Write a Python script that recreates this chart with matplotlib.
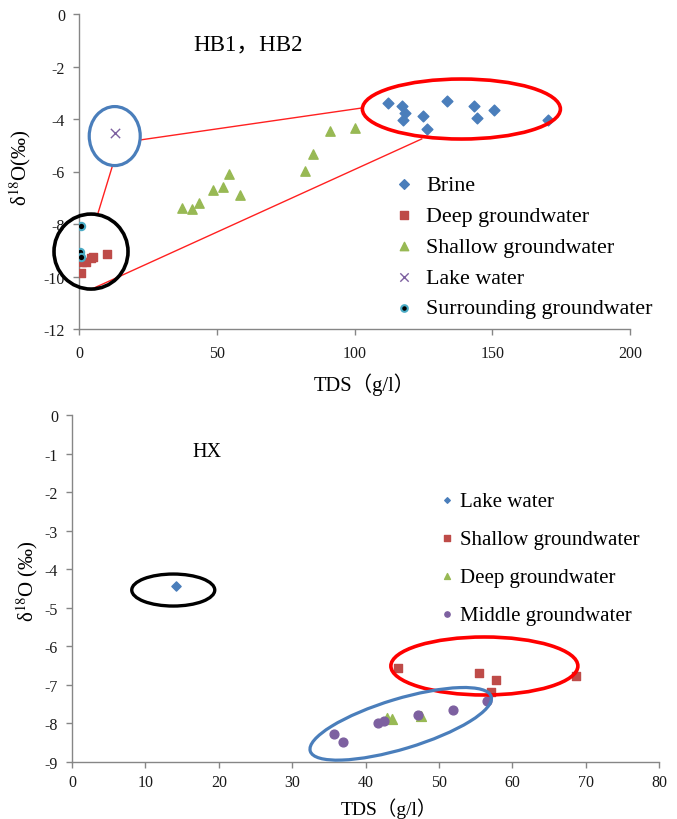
import matplotlib
matplotlib.use("Agg")
import matplotlib.pyplot as plt
from matplotlib.patches import Ellipse
from matplotlib.transforms import ScaledTranslation

plt.rcParams['font.family'] = ['Liberation Serif', 'Noto Sans CJK SC', 'DejaVu Sans']
plt.rcParams['mathtext.fontset'] = 'stix'
plt.rcParams['axes.unicode_minus'] = False

# ---------------- data: top panel (HB1, HB2) ----------------
top_brine_tds = [112.0, 117.3, 118.2, 117.6, 124.9, 126.3, 133.5, 143.5, 144.5, 150.8, 170.1]
top_brine_d18o = [-3.40, -3.50, -3.78, -4.03, -3.87, -4.38, -3.31, -3.52, -3.95, -3.67, -4.03]
top_deep_tds = [10.1, 5.0, 4.4, 2.5, 1.0, 0.8]
top_deep_d18o = [-9.15, -9.25, -9.28, -9.43, -9.46, -9.87]
top_shallow_tds = [37.5, 41.0, 43.4, 48.6, 52.3, 54.3, 58.6, 82.2, 85.1, 91.2, 100.3]
top_shallow_d18o = [-7.39, -7.44, -7.20, -6.70, -6.59, -6.10, -6.90, -5.99, -5.33, -4.44, -4.34]
top_lake_tds = [13.1]
top_lake_d18o = [-4.52]
top_surr_tds = [0.6, 0.4, 0.7]
top_surr_d18o = [-8.06, -9.08, -9.27]

top_xticks = [0, 50, 100, 150, 200]
top_yticks = [0, -2, -4, -6, -8, -10, -12]

# ---------------- data: bottom panel (HX) ----------------
bot_lake_tds = [14.17]
bot_lake_d18o = [-4.43]
bot_shallow_tds = [44.45, 55.5, 57.8, 57.1, 68.7]
bot_shallow_d18o = [-6.56, -6.68, -6.87, -7.18, -6.78]
bot_deep_tds = [42.95, 43.55, 47.5]
bot_deep_d18o = [-7.85, -7.88, -7.81]
bot_middle_tds = [35.7, 36.96, 41.7, 42.5, 47.2, 51.9, 56.6]
bot_middle_d18o = [-8.27, -8.47, -7.99, -7.94, -7.79, -7.65, -7.42]

bot_xticks = list(range(0, 81, 10))
bot_yticks = list(range(0, -10, -1))

BLUE = '#4A7EBB'
RED = '#BE4B48'
GREEN = '#98B954'
PURPLE = '#7D60A0'
AQUA = '#4BACC6'
SPINE = '#868686'

fig = plt.figure(figsize=(6.77, 8.20), dpi=100)
ax1 = fig.add_axes([79/677, 1-330/820, 551/677, 315/820])
ax2 = fig.add_axes([72/677, 1-763/820, 587/677, 347/820])


def style(ax, xticks, yticks, xlim, ylim, xpad, ypad):
    ax.set_xlim(*xlim)
    ax.set_ylim(*ylim)
    ax.set_xticks(xticks)
    ax.set_yticks(yticks)
    for s in ['top', 'right']:
        ax.spines[s].set_visible(False)
    for s in ['left', 'bottom']:
        ax.spines[s].set_color(SPINE)
        ax.spines[s].set_linewidth(1.0)
    ax.tick_params(direction='out', length=4, width=1, color=SPINE,
                   labelsize=11.5, labelcolor='#1a1a1a')
    ax.tick_params(axis='x', pad=xpad)
    ax.tick_params(axis='y', pad=ypad)


def ellipse(ax, cx, cy, wpx, hpx, color, lw, angle=0):
    trans = fig.dpi_scale_trans + ScaledTranslation(cx, cy, ax.transData)
    e = Ellipse((0, 0), wpx / 100, hpx / 100, angle=angle, transform=trans,
                fill=False, edgecolor=color, linewidth=lw, zorder=5, clip_on=False)
    ax.add_patch(e)


# ---------------- top panel ----------------
style(ax1, top_xticks, top_yticks, (0, 200), (-12, 0), 7.5, 6)
ax1.scatter(top_brine_tds, top_brine_d18o, marker='D', s=30, color=BLUE, label='Brine', zorder=3)
ax1.scatter(top_deep_tds, top_deep_d18o, marker='s', s=40, color=RED, label='Deep groundwater', zorder=3)
ax1.scatter(top_shallow_tds, top_shallow_d18o, marker='^', s=45, color=GREEN, label='Shallow groundwater', zorder=3)
ax1.scatter(top_lake_tds, top_lake_d18o, marker='x', s=45, color=PURPLE, linewidths=1.0, label='Lake water', zorder=3)
ax1.scatter(top_surr_tds, top_surr_d18o, marker='o', s=28, color='black', edgecolors=AQUA, linewidths=1.5,
            label='Surrounding groundwater', zorder=4)

# connecting lines (annotation)
for (x0, y0, x1, y1) in [(22.1, -4.80, 102.7, -3.58), (12.1, -5.80, 6.8, -7.62), (5.2, -10.45, 124.4, -4.76)]:
    ax1.plot([x0, x1], [y0, y1], color='#FF2020', lw=1.0, zorder=2)

ellipse(ax1, 138.8, -3.62, 198, 60, '#FF0000', 2.6)
ellipse(ax1, 12.97, -4.65, 51, 59, '#4A7EBB', 2.3)
ellipse(ax1, 4.36, -9.05, 74, 75, 'black', 2.6)

ax1.text(0.307, 0.905, 'HB1，HB2', transform=ax1.transAxes, ha='center', va='center', fontsize=16.5)
ax1.set_xlabel('TDS（g/l）', fontsize=14.8)
ax1.xaxis.set_label_coords(0.517, -0.175)
ax1.xaxis.label.set_va('center')
ax1.set_ylabel(r'δ$^{18}$O(‰)', fontsize=15)
ax1.yaxis.set_label_coords(-0.107, 0.515)
ax1.yaxis.label.set_va('center')

ax1.legend(loc='center left', bbox_to_anchor=(0.570, 0.262), frameon=False, fontsize=15.8,
           handlelength=1.0, handletextpad=0.52, labelspacing=0.48, borderpad=0, borderaxespad=0,
           scatterpoints=1, markerscale=0.9)

# ---------------- bottom panel ----------------
style(ax2, bot_xticks, bot_yticks, (0, 80), (-9, 0), 4.5, 6)
ax2.scatter(bot_lake_tds, bot_lake_d18o, marker='D', s=22, color=BLUE, label='Lake water', zorder=3)
ax2.scatter(bot_shallow_tds, bot_shallow_d18o, marker='s', s=40, color=RED, label='Shallow groundwater', zorder=3)
ax2.scatter(bot_deep_tds, bot_deep_d18o, marker='^', s=50, color=GREEN, label='Deep groundwater', zorder=3)
ax2.scatter(bot_middle_tds, bot_middle_d18o, marker='o', s=40, color=PURPLE, label='Middle groundwater', zorder=4)

ellipse(ax2, 13.8, -4.54, 83, 32, 'black', 2.4)
ellipse(ax2, 56.2, -6.51, 187, 58, '#FF0000', 2.6)
ellipse(ax2, 44.8, -8.01, 189, 50, '#4A7EBB', 2.3, angle=16.8)

ax2.text(0.23, 0.896, 'HX', transform=ax2.transAxes, ha='center', va='center', fontsize=14.5)
ax2.set_xlabel('TDS（g/l）', fontsize=14)
ax2.xaxis.set_label_coords(0.540, -0.132)
ax2.xaxis.label.set_va('center')
ax2.set_ylabel(r'δ$^{18}$O (‰)', fontsize=15)
ax2.yaxis.set_label_coords(-0.077, 0.524)
ax2.yaxis.label.set_va('center')

ax2.legend(loc='center left', bbox_to_anchor=(0.628, 0.588), frameon=False, fontsize=15,
           handlelength=0.6, handletextpad=0.33, labelspacing=0.88, borderpad=0, borderaxespad=0,
           scatterpoints=1, markerscale=0.6)

fig.savefig('out.png', dpi=100)
